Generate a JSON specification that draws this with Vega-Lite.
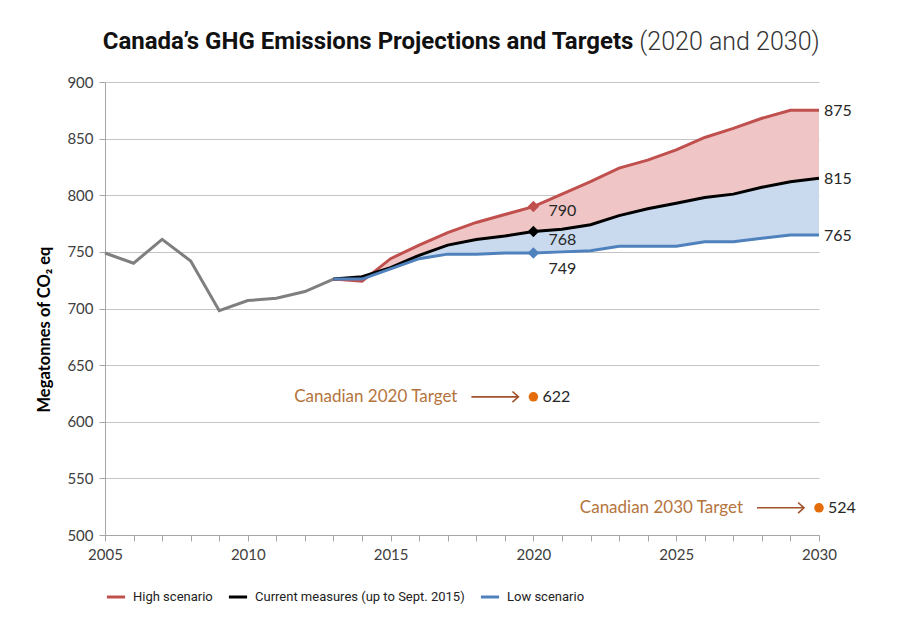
{
  "$schema": "https://vega.github.io/schema/vega-lite/v6.json",
  "width": 714,
  "height": 453,
  "autosize": {"type": "none"},
  "padding": {"left": 105, "top": 82, "right": 78, "bottom": 89},
  "background": "white",
  "config": {
    "view": {"stroke": null},
    "axis": {
      "labelFont": "Lato",
      "labelFontSize": 15,
      "labelColor": "#404040",
      "domainColor": "#a6a6a6",
      "tickColor": "#a6a6a6",
      "gridColor": "#c4c4c4",
      "titleFont": "Lato"
    },
    "legend": {
      "labelFont": "Roboto",
      "labelFontSize": 13,
      "labelColor": "#222222",
      "labelLimit": 400,
      "labelOffset": 6,
      "symbolType": "stroke",
      "symbolStrokeWidth": 3,
      "symbolSize": 330,
      "columnPadding": 9
    }
  },
  "datasets": {
    "hist": [
      {"year": 2005, "value": 749},
      {"year": 2006, "value": 740},
      {"year": 2007, "value": 761},
      {"year": 2008, "value": 742},
      {"year": 2009, "value": 698},
      {"year": 2010, "value": 707},
      {"year": 2011, "value": 709},
      {"year": 2012, "value": 715},
      {"year": 2013, "value": 726}
    ],
    "proj": [
      {"year": 2013, "high": 726, "cur": 726, "low": 726},
      {"year": 2014, "high": 724, "cur": 728, "low": 726},
      {"year": 2015, "high": 744, "cur": 736, "low": 735},
      {"year": 2016, "high": 756, "cur": 747, "low": 744},
      {"year": 2017, "high": 767, "cur": 756, "low": 748},
      {"year": 2018, "high": 776, "cur": 761, "low": 748},
      {"year": 2019, "high": 783, "cur": 764, "low": 749},
      {"year": 2020, "high": 790, "cur": 768, "low": 749},
      {"year": 2021, "high": 801, "cur": 770, "low": 750},
      {"year": 2022, "high": 812, "cur": 774, "low": 751},
      {"year": 2023, "high": 824, "cur": 782, "low": 755},
      {"year": 2024, "high": 831, "cur": 788, "low": 755},
      {"year": 2025, "high": 840, "cur": 793, "low": 755},
      {"year": 2026, "high": 851, "cur": 798, "low": 759},
      {"year": 2027, "high": 859, "cur": 801, "low": 759},
      {"year": 2028, "high": 868, "cur": 807, "low": 762},
      {"year": 2029, "high": 875, "cur": 812, "low": 765},
      {"year": 2030, "high": 875, "cur": 815, "low": 765}
    ],
    "targets": [
      {"year": 2020, "value": 622, "note": "Canadian 2020 Target"},
      {"year": 2030, "value": 524, "note": "Canadian 2030 Target"}
    ],
    "title": [
      {"year": 2023.5, "value": 935, "bold": "Canada’s GHG Emissions Projections and Targets", "light": "(2020 and 2030)"}
    ]
  },
  "encoding": {
    "x": {
      "field": "year",
      "type": "quantitative",
      "scale": {"domain": [2005, 2030], "nice": false, "zero": false},
      "axis": {
        "title": null,
        "values": [2005,2006,2007,2008,2009,2010,2011,2012,2013,2014,2015,2016,2017,2018,2019,2020,2021,2022,2023,2024,2025,2026,2027,2028,2029,2030],
        "format": "d",
        "labelExpr": "datum.value % 5 === 0 ? datum.label : ''",
        "labelOverlap": false,
        "labelFlush": false,
        "tickSize": 6,
        "labelPadding": 6,
        "grid": false
      }
    }
  },
  "layer": [
    {
      "data": {"name": "proj"},
      "mark": {"type": "area", "color": "#efc6c5", "opacity": 1},
      "encoding": {
        "y": {"field": "cur", "type": "quantitative", "scale": {"domain": [500, 900], "nice": false, "zero": false},
          "axis": {
            "title": "Megatonnes of CO₂ eq",
            "titleFontWeight": "bold",
            "titleFontSize": 16.5,
            "titleColor": "#000000",
            "titleX": -61,
            "titleY": 247,
            "titleAngle": 270,
            "titleBaseline": "middle",
            "values": [500,550,600,650,700,750,800,850,900],
            "tickSize": 6,
            "labelPadding": 6,
            "grid": true
          }},
        "y2": {"field": "high"}
      }
    },
    {
      "data": {"name": "proj"},
      "mark": {"type": "area", "color": "#c9daef", "opacity": 1},
      "encoding": {
        "y": {"field": "low", "type": "quantitative"},
        "y2": {"field": "cur"}
      }
    },
    {
      "data": {"name": "hist"},
      "mark": {"type": "line", "color": "#7f7f7f", "strokeWidth": 3},
      "encoding": {
        "y": {"field": "value", "type": "quantitative"}
      }
    },
    {
      "data": {"name": "proj"},
      "transform": [{"fold": ["high", "cur", "low"], "as": ["series", "value"]}],
      "mark": {"type": "line", "strokeWidth": 3},
      "encoding": {
        "y": {"field": "value", "type": "quantitative"},
        "color": {
          "field": "series",
          "type": "nominal",
          "scale": {"domain": ["high", "cur", "low"], "range": ["#c0504d", "#000000", "#4f81bd"]},
          "legend": {
            "title": null,
            "orient": "bottom",
            "direction": "horizontal",
            "offset": 24,
            "labelExpr": "datum.value == 'high' ? 'High scenario' : datum.value == 'cur' ? 'Current measures (up to Sept. 2015)' : 'Low scenario'"
          }
        }
      }
    },
    {
      "data": {"name": "proj"},
      "transform": [
        {"filter": "datum.year == 2020"},
        {"fold": ["high", "cur", "low"], "as": ["series", "value"]}
      ],
      "mark": {"type": "point", "shape": "diamond", "filled": true, "size": 130, "opacity": 1},
      "encoding": {
        "y": {"field": "value", "type": "quantitative"},
        "color": {"field": "series", "type": "nominal", "legend": null}
      }
    },
    {
      "data": {"name": "proj"},
      "transform": [{"filter": "datum.year == 2020"}],
      "mark": {"type": "text", "align": "left", "baseline": "middle", "dx": 15, "dy": 4, "font": "Lato", "fontSize": 16, "color": "#262626"},
      "encoding": {
        "y": {"field": "high", "type": "quantitative"},
        "text": {"field": "high", "type": "quantitative", "format": "d"}
      }
    },
    {
      "data": {"name": "proj"},
      "transform": [{"filter": "datum.year == 2020"}],
      "mark": {"type": "text", "align": "left", "baseline": "middle", "dx": 15, "dy": 9, "font": "Lato", "fontSize": 16, "color": "#262626"},
      "encoding": {
        "y": {"field": "cur", "type": "quantitative"},
        "text": {"field": "cur", "type": "quantitative", "format": "d"}
      }
    },
    {
      "data": {"name": "proj"},
      "transform": [{"filter": "datum.year == 2020"}],
      "mark": {"type": "text", "align": "left", "baseline": "middle", "dx": 15, "dy": 16, "font": "Lato", "fontSize": 16, "color": "#262626"},
      "encoding": {
        "y": {"field": "low", "type": "quantitative"},
        "text": {"field": "low", "type": "quantitative", "format": "d"}
      }
    },
    {
      "data": {"name": "proj"},
      "transform": [
        {"filter": "datum.year == 2030"},
        {"fold": ["high", "cur", "low"], "as": ["series", "value"]}
      ],
      "mark": {"type": "text", "align": "left", "baseline": "middle", "dx": 5, "dy": 1, "font": "Lato", "fontSize": 16, "color": "#262626"},
      "encoding": {
        "y": {"field": "value", "type": "quantitative"},
        "text": {"field": "value", "type": "quantitative", "format": "d"}
      }
    },
    {
      "data": {"name": "targets"},
      "mark": {"type": "rule", "color": "#a0522d", "strokeWidth": 1.6, "xOffset": -62, "x2Offset": -15},
      "encoding": {
        "y": {"field": "value", "type": "quantitative"},
        "x2": {"field": "year"}
      }
    },
    {
      "data": {"name": "targets"},
      "mark": {"type": "point", "shape": "M-1,-0.9L0,0L-1,0.9", "filled": false, "size": 140, "strokeWidth": 1.6, "color": "#a0522d", "opacity": 1, "xOffset": -15},
      "encoding": {
        "y": {"field": "value", "type": "quantitative"}
      }
    },
    {
      "data": {"name": "targets"},
      "mark": {"type": "point", "shape": "circle", "filled": true, "size": 90, "color": "#e46c0a", "opacity": 1},
      "encoding": {
        "y": {"field": "value", "type": "quantitative"}
      }
    },
    {
      "data": {"name": "targets"},
      "mark": {"type": "text", "align": "left", "baseline": "middle", "dx": 9, "font": "Lato", "fontSize": 16, "color": "#262626"},
      "encoding": {
        "y": {"field": "value", "type": "quantitative"},
        "text": {"field": "value", "type": "quantitative", "format": "d"}
      }
    },
    {
      "data": {"name": "targets"},
      "mark": {"type": "text", "align": "right", "baseline": "middle", "dx": -76, "font": "Lato", "fontSize": 17, "color": "#b5743d"},
      "encoding": {
        "y": {"field": "value", "type": "quantitative"},
        "text": {"field": "note", "type": "nominal"}
      }
    },
    {
      "data": {"name": "title"},
      "mark": {"type": "text", "align": "right", "baseline": "middle", "font": "Roboto", "fontWeight": "bold", "fontSize": 24, "color": "#111111"},
      "encoding": {
        "y": {"field": "value", "type": "quantitative"},
        "text": {"field": "bold", "type": "nominal"}
      }
    },
    {
      "data": {"name": "title"},
      "mark": {"type": "text", "align": "left", "baseline": "middle", "dx": 6, "font": "Roboto", "fontWeight": 300, "fontSize": 25, "color": "#333333"},
      "encoding": {
        "y": {"field": "value", "type": "quantitative"},
        "text": {"field": "light", "type": "nominal"}
      }
    }
  ]
}
